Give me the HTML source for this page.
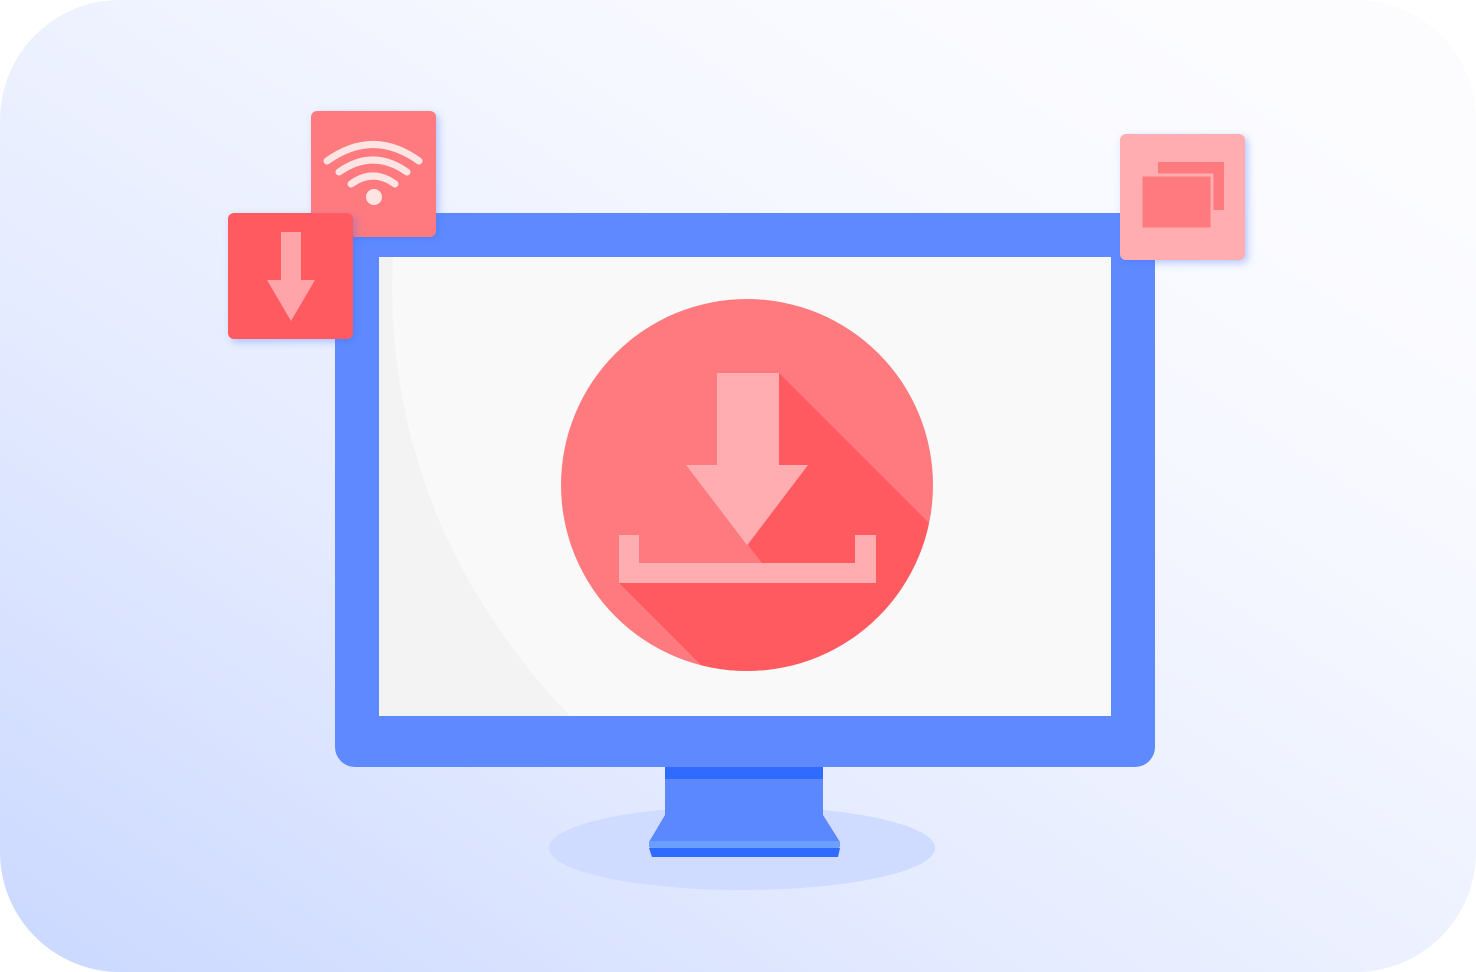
<!DOCTYPE html>
<html><head><meta charset="utf-8"><style>html,body{margin:0;padding:0;background:#fff;}svg{display:block}</style></head>
<body>
<svg width="1476" height="972" viewBox="0 0 1476 972" xmlns="http://www.w3.org/2000/svg">
<defs>
<linearGradient id="bg" x1="0" y1="1" x2="0.9" y2="0.1">
<stop offset="0" stop-color="#cad8ff"/><stop offset="0.4" stop-color="#e6ecff"/><stop offset="0.75" stop-color="#f6f8ff"/><stop offset="1" stop-color="#fcfcff"/>
</linearGradient>
<clipPath id="cc"><circle cx="747" cy="485" r="186"/></clipPath>
<filter id="sh" x="-30%" y="-30%" width="160%" height="160%"><feDropShadow dx="3" dy="3" stdDeviation="4" flood-color="#3d6cff" flood-opacity="0.35"/></filter>
</defs>
<rect x="0" y="0" width="1476" height="972" rx="120" fill="url(#bg)"/>
<ellipse cx="742" cy="848" rx="193" ry="42" fill="#cfdbff"/>
<rect x="665" y="760" width="158" height="56" fill="#5b88ff"/>
<rect x="665" y="767" width="158" height="12" fill="#2f6bff"/>
<path d="M665 815 L823 815 L840 842 L649 842 Z" fill="#5b88ff"/>
<rect x="649" y="841" width="191" height="7" rx="2" fill="#6a9eff"/>
<path d="M649 848 L840 848 L838 857 L652 857 Z" fill="#2f6bff"/>
<rect x="335" y="213" width="820" height="554" rx="20" fill="#5f8aff"/>
<rect x="335" y="213" width="820" height="40" fill="#5f8aff"/>
<rect x="379" y="257" width="732" height="459" fill="#f9f9f9"/>
<path d="M379 257 L393 257 C385 420 440 580 570 716 L379 716 Z" fill="#f3f3f3"/>
<circle cx="747" cy="485" r="186" fill="#ff7a7e"/>
<g clip-path="url(#cc)">
<path d="M779 373 L1200 794 L900 900 L819 783 L619 583 L762 563 L748 545 L808 465 L779 465 Z" fill="#ff5a60"/>
</g>
<path d="M717 373 L779 373 L779 465 L808 465 L747 545 L686 465 L717 465 Z" fill="#ffadb1"/>
<path d="M619 535 L639 535 L639 563 L855 563 L855 535 L876 535 L876 583 L619 583 Z" fill="#ffadb1"/>
<rect x="311" y="111" width="125" height="126" rx="6" fill="#ff7a7e" filter="url(#sh)"/>
<g fill="none" stroke="#ffe4e4" stroke-width="7" stroke-linecap="round">
<path d="M327 161 Q373 128 419 161"/>
<path d="M339 172 Q373 148 407 172"/>
<path d="M351 184 Q373 168 395 184"/>
</g>
<circle cx="374" cy="197" r="8" fill="#ffe4e4"/>
<rect x="228" y="213" width="125" height="126" rx="6" fill="#ff5a60" filter="url(#sh)"/>
<path d="M281 232 L301 232 L301 280 L315 280 L291 321 L267 280 L281 280 Z" fill="#ffa5aa"/>
<rect x="1120" y="134" width="125" height="126" rx="6" fill="#ffadb1" filter="url(#sh)"/>
<rect x="1158" y="162" width="66" height="48" fill="#ff7a7e"/>
<rect x="1141" y="175" width="71" height="54" fill="#ff7a7e" stroke="#ffadb1" stroke-width="3"/>
</svg>
</body></html>
